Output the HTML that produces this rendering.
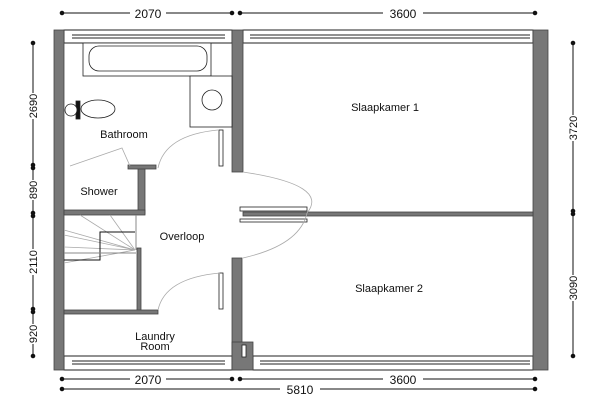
<!DOCTYPE html>
<html><head><style>body{margin:0;background:#fff}svg{display:block}text{font-family:"Liberation Sans",sans-serif;fill:#111}</style></head><body>
<svg width="600" height="400" viewBox="0 0 600 400" xmlns="http://www.w3.org/2000/svg">
<g stroke="#111" stroke-width="1" fill="#111">
<!-- top dims -->
<line x1="62" y1="13" x2="232" y2="13"/><line x1="240" y1="13" x2="535" y2="13"/>
<circle cx="62" cy="13" r="1.8"/><circle cx="232" cy="13" r="1.8"/><circle cx="240" cy="13" r="1.8"/><circle cx="535" cy="13" r="1.8"/>
<line x1="62" y1="379" x2="232" y2="379"/><line x1="240" y1="379" x2="535" y2="379"/>
<circle cx="62" cy="379" r="1.8"/><circle cx="232" cy="379" r="1.8"/><circle cx="240" cy="379" r="1.8"/><circle cx="535" cy="379" r="1.8"/>
<line x1="62" y1="389" x2="535" y2="389"/><circle cx="62" cy="389" r="1.8"/><circle cx="535" cy="389" r="1.8"/>
<line x1="33" y1="43" x2="33" y2="356"/>
<circle cx="33" cy="43" r="1.8"/><circle cx="33" cy="165" r="1.8"/><circle cx="33" cy="168" r="1.8"/><circle cx="33" cy="213" r="1.8"/><circle cx="33" cy="216" r="1.8"/><circle cx="33" cy="309" r="1.8"/><circle cx="33" cy="312" r="1.8"/><circle cx="33" cy="356" r="1.8"/>
<line x1="573" y1="43" x2="573" y2="356"/>
<circle cx="573" cy="43" r="1.8"/><circle cx="573" cy="211" r="1.8"/><circle cx="573" cy="214" r="1.8"/><circle cx="573" cy="356" r="1.8"/>
</g>
<g font-size="12" text-anchor="middle">
<rect x="130" y="6" width="36" height="12" fill="#fff"/><text x="148" y="18">2070</text>
<rect x="383" y="6" width="40" height="12" fill="#fff"/><text x="403" y="18">3600</text>
<rect x="130" y="373" width="36" height="12" fill="#fff"/><text x="148" y="384">2070</text>
<rect x="383" y="373" width="40" height="12" fill="#fff"/><text x="403" y="384">3600</text>
<rect x="280" y="383" width="40" height="12" fill="#fff"/><text x="300" y="394">5810</text>
</g>
<g font-size="11" text-anchor="middle">
<g transform="translate(37,106) rotate(-90)"><rect x="-13" y="-10" width="26" height="11" fill="#fff"/><text x="0" y="0">2690</text></g>
<g transform="translate(37,190) rotate(-90)"><rect x="-10" y="-10" width="20" height="11" fill="#fff"/><text x="0" y="0">890</text></g>
<g transform="translate(37,262) rotate(-90)"><rect x="-13" y="-10" width="26" height="11" fill="#fff"/><text x="0" y="0">2110</text></g>
<g transform="translate(37,334) rotate(-90)"><rect x="-10" y="-10" width="20" height="11" fill="#fff"/><text x="0" y="0">920</text></g>
<g transform="translate(577,128) rotate(-90)"><rect x="-13" y="-10" width="26" height="11" fill="#fff"/><text x="0" y="0">3720</text></g>
<g transform="translate(577,288) rotate(-90)"><rect x="-13" y="-10" width="26" height="11" fill="#fff"/><text x="0" y="0">3090</text></g>
</g>
<!-- windows -->
<g fill="#fff" stroke="#222" stroke-width="1">
<rect x="64" y="30" width="168" height="13"/><line x1="72" y1="35" x2="225" y2="35"/><line x1="72" y1="38" x2="225" y2="38"/>
<rect x="243" y="30" width="290" height="13"/><line x1="250" y1="35" x2="530" y2="35"/><line x1="250" y1="38" x2="530" y2="38"/>
<rect x="64" y="356" width="168" height="14"/><line x1="72" y1="361" x2="225" y2="361"/><line x1="72" y1="364" x2="225" y2="364"/>
<rect x="253" y="356" width="280" height="14"/><line x1="260" y1="361" x2="530" y2="361"/><line x1="260" y1="364" x2="530" y2="364"/>
</g>
<!-- walls -->
<g fill="#777" stroke="#444" stroke-width="0.8">
<rect x="54" y="30" width="10" height="340"/>
<rect x="533" y="30" width="15" height="340"/>
<rect x="232" y="30" width="11" height="142"/>
<rect x="232" y="258" width="10" height="112"/>
<rect x="232" y="342" width="21" height="28"/>
<rect x="243" y="212" width="290" height="4"/>
<rect x="138" y="166" width="7" height="48"/>
<rect x="128" y="165" width="28" height="4"/>
<rect x="64" y="210" width="81" height="5"/>
<rect x="137" y="248" width="4" height="64"/>
<rect x="64" y="310" width="94" height="4"/>
</g>
<g fill="#fff" stroke="#222" stroke-width="0.8">
<rect x="242" y="345" width="4" height="12"/>
<!-- bath -->
<rect x="83" y="43" width="128" height="33"/>
<rect x="89" y="46" width="118" height="25" rx="10"/>
<rect x="190" y="76" width="42" height="51"/>
<circle cx="212" cy="100" r="10"/>
<ellipse cx="98" cy="109" rx="17" ry="9"/>
<rect x="76" y="101" width="4" height="18" fill="#111"/>
<circle cx="71" cy="110" r="6"/>
<!-- door panels -->
<rect x="219" y="130" width="4" height="36"/>
<rect x="219" y="273" width="4" height="36"/>
<rect x="240" y="207" width="67" height="4"/>
<rect x="240" y="219" width="67" height="3"/>
</g>
<g fill="none" stroke="#aaa" stroke-width="0.8">
<path d="M243 172 Q330 185 307 213 Q300 245 243 258"/>
<path d="M158 168 Q165 135 218 130"/>
<path d="M158 310 Q165 278 220 273"/>
<path d="M70 166 L122 148 L130 166"/>
<path d="M64 230 L135 250 M64 263 L135 250 M64 247 L135 250 M80 215 L135 250 M110 215 L135 250 M64 235 L135 250"/>
</g>
<g fill="none" stroke="#111" stroke-width="1">
<path d="M64 260 L100 260 L100 232 L135 232"/>
<line x1="64" y1="253" x2="136" y2="253" stroke="#888"/>
<line x1="136" y1="215" x2="136" y2="250" stroke="#888"/>
</g>
<g font-size="11" text-anchor="middle">
<text x="124" y="138">Bathroom</text>
<text x="99" y="195">Shower</text>
<text x="182" y="240">Overloop</text>
<text x="155" y="340">Laundry</text>
<text x="155" y="350">Room</text>
<text x="385" y="111">Slaapkamer 1</text>
<text x="389" y="292">Slaapkamer 2</text>
</g>
</svg>
</body></html>
